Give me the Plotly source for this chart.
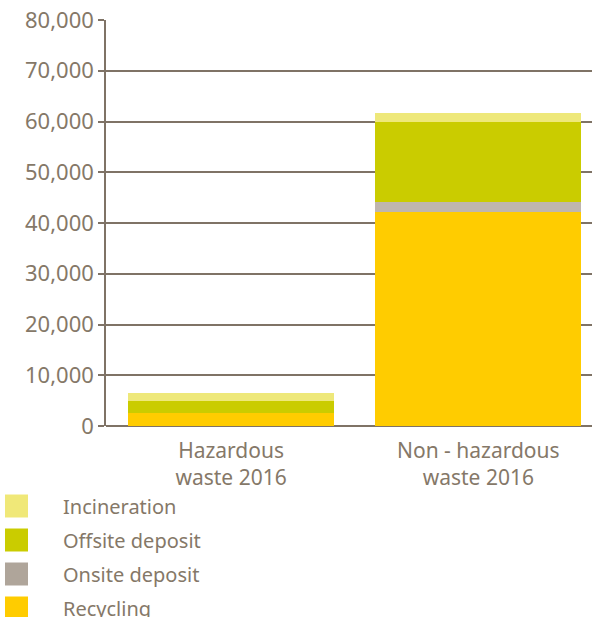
import plotly.graph_objects as go

# data (tonnes)
categories = ["Hazardous<br>waste 2016", "Non - hazardous<br>waste 2016"]
series_names = ["Recycling", "Onsite deposit", "Offsite deposit", "Incineration"]
recycling = [2600, 42200]
onsite_deposit = [0, 2000]
offsite_deposit = [2300, 15700]
incineration = [1550, 1800]
y_ticks = [0, 10000, 20000, 30000, 40000, 50000, 60000, 70000, 80000]

colors = {
    "Recycling": "#FFCC00",
    "Onsite deposit": "#BFB6AE",
    "Offsite deposit": "#CACC00",
    "Incineration": "#EEE87A",
}
legend_colors = {
    "Recycling": "#FFCC00",
    "Onsite deposit": "#AFA59A",
    "Offsite deposit": "#CACC00",
    "Incineration": "#F0E878",
}
values = [recycling, onsite_deposit, offsite_deposit, incineration]

text_col = "#857868"
grid_col = "#7F7366"
font_family = "Noto Sans"

x_pos = list(range(len(categories)))

fig = go.Figure()
for name, vals in zip(series_names, values):
    fig.add_trace(go.Bar(
        x=x_pos, y=vals, name=name,
        marker=dict(color=colors[name], line=dict(width=0)),
        width=0.834,
    ))

# plot area in pixels: x 106..592, y 20..426
PL, PW, PB, PH = 106, 486, 426, 406

# custom legend with big square swatches, top to bottom
legend_order = ["Incineration", "Offsite deposit", "Onsite deposit", "Recycling"]
shapes = []
annotations = []
for i, name in enumerate(legend_order):
    yc = 506 + i * 34
    shapes.append(dict(
        type="rect", xref="paper", yref="paper",
        x0=(5 - PL) / PW, x1=(28 - PL) / PW,
        y0=(PB - (yc + 11.5)) / PH, y1=(PB - (yc - 11.5)) / PH,
        fillcolor=legend_colors[name], line=dict(width=0),
    ))
    annotations.append(dict(
        text=name, xref="paper", yref="paper",
        x=(61 - PL) / PW, y=(PB - yc) / PH,
        xanchor="left", yanchor="middle", showarrow=False,
        font=dict(size=20, color=text_col, family=font_family),
    ))

fig.update_layout(
    barmode="stack",
    width=592, height=617,
    margin=dict(l=PL, r=0, t=20, b=191),
    plot_bgcolor="white", paper_bgcolor="white",
    showlegend=False,
    font=dict(family=font_family, color=text_col, size=20),
    shapes=shapes,
    annotations=annotations,
    xaxis=dict(
        tickmode="array", tickvals=x_pos, ticktext=categories,
        range=[-0.506, 1.46], showgrid=False, zeroline=False,
        ticks="", tickfont=dict(size=21, color=text_col),
        showline=False, automargin=False, ticklabelstandoff=10,
    ),
    yaxis=dict(
        range=[0, 80000], tickvals=y_ticks, tickformat=",",
        showgrid=True, gridcolor=grid_col, gridwidth=1.5,
        zeroline=True, zerolinecolor=grid_col, zerolinewidth=1.5,
        showline=True, linecolor=grid_col, linewidth=1.5,
        ticks="outside", ticklen=6, tickcolor=grid_col, tickwidth=1.5,
        tickfont=dict(size=22, color=text_col), automargin=False,
    ),
)

# drop the default body margin so the figure fills the window exactly
fig.write_html("out.html", config={"displayModeBar": False},
               post_script="document.body.style.margin='0';")
